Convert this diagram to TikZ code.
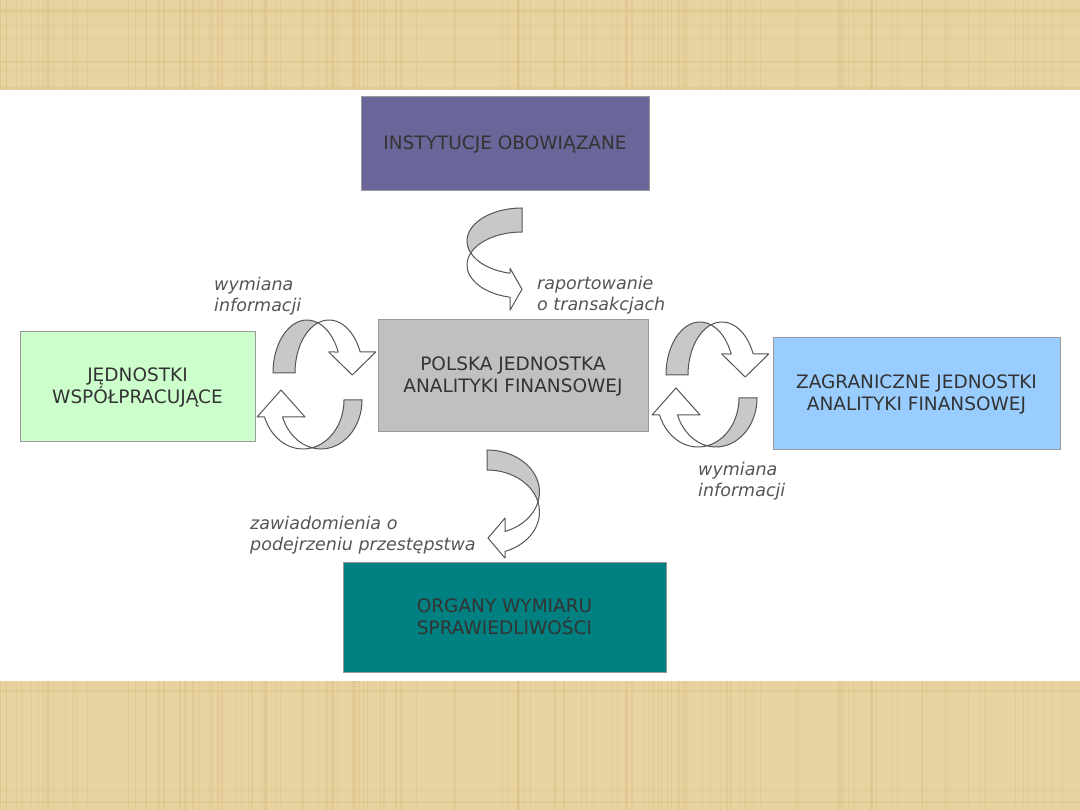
\documentclass[tikz,border=0pt]{standalone}
\usepackage{fontspec}
\setmainfont{DejaVu Sans}

\definecolor{papir}{HTML}{E8D3A0}
\definecolor{papirciemny}{HTML}{D6BC82}
\definecolor{fiolet}{HTML}{6B6699}
\definecolor{szary}{HTML}{C0C0C0}
\definecolor{zielony}{HTML}{CCFFCC}
\definecolor{niebieski}{HTML}{99CCFF}
\definecolor{morski}{HTML}{008080}
\definecolor{ramka}{HTML}{9A9A9A}
\definecolor{tekst}{HTML}{333333}
\definecolor{opis}{HTML}{555555}
\definecolor{tyl}{HTML}{C8C8C8}
\definecolor{obrys}{HTML}{555555}

\tikzset{
  box/.style={draw=ramka, line width=1pt, align=center, text=tekst,
    font=\fontsize{18.5}{22}\selectfont, inner sep=0pt},
  etykieta/.style={align=left, anchor=west, text=opis,
    font=\fontsize{17.5}{21}\selectfont\itshape, inner sep=0pt},
}

% curved block arrow: rx, ry, width, head base, head shift, tip, head half width
\newcommand{\lukStrzalka}[7]{%
  \pgfmathsetmacro\kAl{acos(#3/(2*#1))}
  \pgfmathsetmacro\kTA{360-\kAl}
  \pgfmathsetmacro\kTB{180+\kAl}
  \pgfmathsetmacro\kIx{#1+#3/2}
  \pgfmathsetmacro\kIy{-#2*sin(\kAl)}
  \pgfmathsetmacro\kTb{360+asin(#4/#2)}
  \pgfmathsetmacro\kXa{#1+#1*cos(\kTb)}
  \pgfmathsetmacro\kXb{\kXa+#3}
  \pgfmathsetmacro\kHc{(\kXa+\kXb)/2+#5}
  \filldraw[fill=tyl, draw=obrys, line width=1pt] (0,0)
    arc[start angle=180, end angle=\kTA, x radius=#1, y radius=#2]
    arc[start angle=\kTB, end angle=180, x radius=#1, y radius=#2] -- cycle;
  \filldraw[fill=white, draw=obrys, line width=1pt, line join=round] (\kIx,\kIy)
    arc[start angle=\kTA, end angle=\kTb, x radius=#1, y radius=#2]
    -- (\kHc-#7,#4) -- (\kHc,#6) -- (\kHc+#7,#4) -- (\kXb,#4)
    arc[start angle=\kTb, end angle=\kTB, x radius=#1, y radius=#2] -- cycle;
}

\begin{document}
\begin{tikzpicture}[x=1pt, y=-1pt]
\useasboundingbox (0,0) rectangle (1080,810);

% background
\fill[papir] (0,0) rectangle (1080,810);
\pgfmathsetseed{11}
\foreach \i in {1,...,140} {
  \pgfmathsetmacro\px{rnd*1080}
  \draw[papirciemny, opacity=0.35, line width=1.2pt] (\px,0) -- (\px,810);
}
\foreach \i in {1,...,60} {
  \pgfmathsetmacro\py{rnd*810}
  \draw[papirciemny, opacity=0.3, line width=1.5pt] (0,\py) -- (1080,\py);
}
\fill[white] (0,90) rectangle (1080,681);

% boxes
\node[box, fill=fiolet, minimum width=288pt, minimum height=94pt]
  (inst) at (505,144) {INSTYTUCJE OBOWIĄZANE};
\node[box, fill=szary, minimum width=270pt, minimum height=112pt]
  (pjaf) at (513,376) {POLSKA JEDNOSTKA\\ANALITYKI FINANSOWEJ};
\node[box, fill=zielony, minimum width=235pt, minimum height=110pt]
  (jw) at (137.5,387) {JĘDNOSTKI\\WSPÓŁPRACUJĄCE};
\node[box, fill=niebieski, minimum width=287pt, minimum height=112pt]
  (zjaf) at (916.5,394) {ZAGRANICZNE JEDNOSTKI\\ANALITYKI FINANSOWEJ};
\node[box, fill=morski, minimum width=323pt, minimum height=110pt]
  (ows) at (504.5,617) {ORGANY WYMIARU\\SPRAWIEDLIWOŚCI};

% curved arrows
\begin{scope}[shift={(522,208)}, rotate=90, xscale=-1]
  \lukStrzalka{33}{55}{24}{-12}{4}{0}{21}
\end{scope}
\begin{scope}[shift={(273,373)}]
  \lukStrzalka{34}{53}{22}{-21}{3}{2}{23.5}
\end{scope}
\begin{scope}[shift={(362,400)}, rotate=180]
  \lukStrzalka{41}{49}{18}{-17}{-7.5}{10}{24}
\end{scope}
\begin{scope}[shift={(666,375)}]
  \lukStrzalka{34}{53}{22}{-21}{3}{2}{23.5}
\end{scope}
\begin{scope}[shift={(757,398)}, rotate=180]
  \lukStrzalka{41}{49}{18}{-17}{-7.5}{10}{24}
\end{scope}
\begin{scope}[shift={(487,450)}, rotate=-90]
  \lukStrzalka{42}{52.5}{20}{-18}{-3.4}{-1}{20}
\end{scope}

% labels
\node[etykieta] (wym1) at (214,296) {wymiana\\informacji};
\node[etykieta] (rap) at (537,295) {raportowanie\\o transakcjach};
\node[etykieta] (wym2) at (698,481) {wymiana\\informacji};
\node[etykieta] (zaw) at (250,535) {zawiadomienia o\\podejrzeniu przestępstwa};
\end{tikzpicture}
\end{document}
